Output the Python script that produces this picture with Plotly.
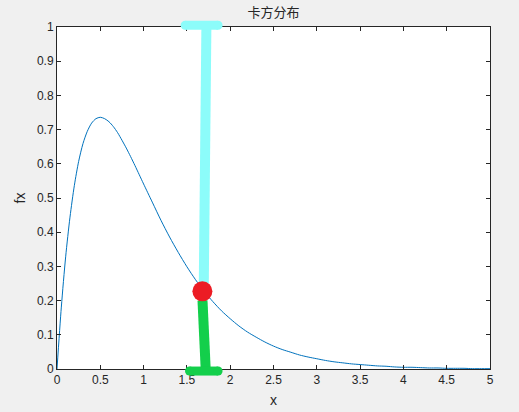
import plotly.graph_objects as go

# chi-square style density curve
x_vals = [0, 0.05, 0.1, 0.15, 0.2, 0.25, 0.3, 0.35, 0.4, 0.45, 0.5, 0.55, 0.6, 0.65,
          0.7, 0.75, 0.8, 0.85, 0.9, 0.95, 1.0,
          1.1, 1.2, 1.3, 1.4, 1.5, 1.6, 1.7, 1.8, 1.9, 2.0,
          2.1, 2.2, 2.3, 2.4, 2.5, 2.6, 2.7, 2.8, 2.9, 3.0,
          3.1, 3.2, 3.3, 3.4, 3.5, 3.6, 3.7, 3.8, 3.9, 4.0,
          4.1, 4.2, 4.3, 4.4, 4.5, 4.6, 4.7, 4.8, 4.9, 5.0]
fx_vals = [0.000, 0.181, 0.328, 0.444, 0.536, 0.607, 0.659, 0.695, 0.719, 0.732, 0.736,
           0.732, 0.723, 0.709, 0.691, 0.669, 0.646, 0.621, 0.595, 0.568, 0.541,
           0.488, 0.435, 0.386, 0.341, 0.299, 0.261, 0.227, 0.197, 0.170, 0.147,
           0.126, 0.108, 0.093, 0.079, 0.067, 0.057, 0.049, 0.041, 0.035, 0.030,
           0.025, 0.021, 0.018, 0.015, 0.013, 0.011, 0.009, 0.008, 0.006, 0.005,
           0.005, 0.004, 0.003, 0.003, 0.002, 0.002, 0.002, 0.001, 0.001, 0.001]

# hand-drawn marks
cyan_stem_x = [1.725, 1.71, 1.70, 1.695]
cyan_stem_y = [1.0, 0.70, 0.45, 0.25]
cyan_cap_x = [1.48, 1.86]
cyan_cap_y = 1.005
green_stem_x = [1.68, 1.69, 1.70, 1.717]
green_stem_y = [0.20, 0.14, 0.07, 0.0]
green_cap_x = [1.53, 1.86]
green_cap_y = -0.006
dot_x = [1.679]
dot_y = [0.227]

x_ticks = [0, 0.5, 1, 1.5, 2, 2.5, 3, 3.5, 4, 4.5, 5]
y_ticks = [0, 0.1, 0.2, 0.3, 0.4, 0.5, 0.6, 0.7, 0.8, 0.9, 1]

CYAN = "#8cfcfa"
GREEN = "#13cf4b"
RED = "#ec1c24"

fig = go.Figure()
fig.add_trace(go.Scatter(x=x_vals, y=fx_vals, mode="lines", line=dict(color="#0072bd", width=1, shape="spline", smoothing=0.8), showlegend=False))
fig.add_trace(go.Scatter(x=cyan_stem_x, y=cyan_stem_y, mode="lines", line=dict(color=CYAN, width=10), showlegend=False))
fig.add_trace(go.Scatter(x=green_stem_x, y=green_stem_y, mode="lines", line=dict(color=GREEN, width=10), showlegend=False))
fig.add_trace(go.Scatter(x=dot_x, y=dot_y, mode="markers", marker=dict(color=RED, size=20, line=dict(width=0)), showlegend=False, cliponaxis=False))

shapes = []
for cap_x, cap_y, col in [(cyan_cap_x, cyan_cap_y, CYAN), (green_cap_x, green_cap_y, GREEN)]:
    shapes.append(dict(type="line", xref="x", yref="paper", x0=cap_x[0], x1=cap_x[1], y0=cap_y, y1=cap_y,
                       line=dict(color=col, width=9), layer="above"))
    for cx in cap_x:
        shapes.append(dict(type="circle", xref="x", yref="paper", xsizemode="pixel", ysizemode="pixel",
                           xanchor=cx, yanchor=cap_y, x0=-4.5, x1=4.5, y0=-4.5, y1=4.5,
                           fillcolor=col, line=dict(width=0), layer="above"))

axis_common = dict(showline=True, linecolor="#262626", linewidth=1, mirror="ticks", ticks="inside",
                   ticklen=4, tickcolor="#262626", tickwidth=1, showgrid=False, zeroline=False,
                   automargin=False,
                   tickfont=dict(family="Liberation Sans, Arial, sans-serif", size=12, color="#262626"))

fig.update_layout(
    width=519, height=412,
    margin=dict(l=57, r=29, t=27, b=43),
    paper_bgcolor="#f0f0f0", plot_bgcolor="white",
    title=dict(text="卡方分布", x=0.527, xanchor="center", y=0.97, yref="container", yanchor="middle",
               automargin=False,
               font=dict(family="Noto Sans CJK SC, Liberation Sans, sans-serif", size=13, color="#262626")),
    xaxis=dict(range=[0, 5], tickvals=x_ticks, ticktext=[f"{v:g}" for v in x_ticks],
               title=dict(text="x", standoff=8, font=dict(family="Liberation Sans, Arial, sans-serif", size=14, color="#262626")),
               **axis_common),
    yaxis=dict(range=[0, 1], tickvals=y_ticks, ticktext=[f"{v:g}" for v in y_ticks],
               title=dict(text="fx", standoff=8, font=dict(family="Liberation Sans, Arial, sans-serif", size=14, color="#262626")),
               **axis_common),
    shapes=shapes,
)

fig.write_html("out.html", config={"displayModeBar": False},
               post_script="document.body.style.margin='0';document.body.style.background='#f0f0f0';document.body.style.overflow='hidden';")
